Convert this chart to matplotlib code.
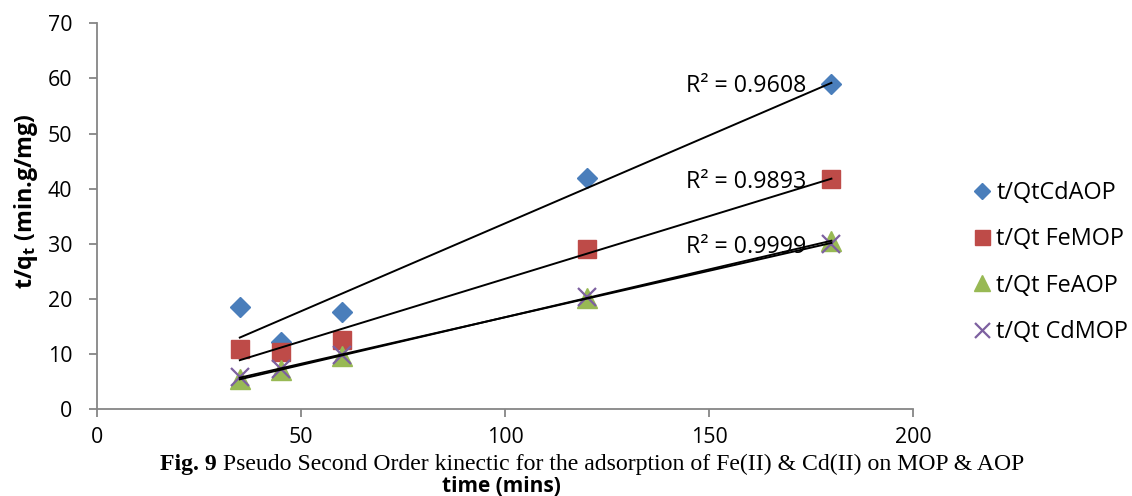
import numpy as np
import matplotlib
matplotlib.use("Agg")
import matplotlib.pyplot as plt

time_mins = [35, 45, 60, 120, 180]
cd_aop = [18.6, 12.2, 17.6, 42.0, 58.9]
fe_mop = [10.8, 10.4, 12.6, 29.0, 41.7]
fe_aop = [5.4, 7.1, 9.7, 20.2, 30.5]
cd_mop = [5.8, 7.2, 9.8, 20.3, 30.0]
series_names = ["t/QtCdAOP", "t/Qt FeMOP", "t/Qt FeAOP", "t/Qt CdMOP"]
r2_labels = ["R\u00b2 = 0.9608", "R\u00b2 = 0.9893", "R\u00b2 = 0.9999"]
x_ticks = [0, 50, 100, 150, 200]
y_ticks = [0, 10, 20, 30, 40, 50, 60, 70]

# label placement (data coords of right end / baseline)
r2_pos_x = 173.8
r2_pos_y = [57.5, 40.1, 28.4]

FONT = "Open Sans"
SERIF = "Liberation Serif"
W, H = 1132, 496
fig = plt.figure(figsize=(W / 100, H / 100), dpi=100)
r = fig.canvas.get_renderer()


def px_width(text, **kw):
    t = fig.text(0, 0, text, **kw)
    w = t.get_window_extent(renderer=r).width
    t.remove()
    return w


def fit_size(text, target_px, base=14, **kw):
    return base * target_px / px_width(text, fontsize=base, **kw)


ax = fig.add_axes([97 / W, 1 - 409 / H, 816 / W, 385.7 / H])

styles = [
    dict(marker="D", color="#4A7EBB", ms=10),
    dict(marker="s", color="#BE4B48", ms=13.5),
    dict(marker="^", color="#98B954", ms=14),
    dict(marker="x", color="#7D60A0", ms=13.5, mew=1.6),
]
data = [cd_aop, fe_mop, fe_aop, cd_mop]
x = np.array(time_mins, dtype=float)
handles = []
for ys, st, name in zip(data, styles, series_names):
    h, = ax.plot(x, ys, linestyle="none", label=name, zorder=3, **st)
    handles.append(h)
    k, b = np.polyfit(x, ys, 1)
    ax.plot([x.min(), x.max()], [k * x.min() + b, k * x.max() + b], color="black", lw=1.4, zorder=4)

r2_size = fit_size(r2_labels[0], 121, family=FONT)
for lbl, yy in zip(r2_labels, r2_pos_y):
    ax.text(r2_pos_x, yy, lbl, ha="right", va="baseline", fontsize=r2_size, family=FONT, zorder=5)

ax.set_xlim(0, 200)
ax.set_ylim(0, 70)
ax.set_xticks(x_ticks)
ax.set_yticks(y_ticks)
for s in ["top", "right"]:
    ax.spines[s].set_visible(False)
for s in ["left", "bottom"]:
    ax.spines[s].set_color("#868686")
    ax.spines[s].set_linewidth(1.3)
tick_size = fit_size("100", 37, family=FONT)
ax.tick_params(colors="#868686", length=5.8, width=1.3, labelcolor="black", labelsize=tick_size)
ax.tick_params(axis="y", pad=12)
ax.tick_params(axis="x", pad=7.5)
for lab in ax.get_xticklabels() + ax.get_yticklabels():
    lab.set_family(FONT)

# y label: fit its height to 177 px
yl = fig.text(26 / W, 1 - 201 / H, "t/q$_\\mathregular{t}$ (min.g/mg)", rotation=90, ha="center",
              va="center", fontsize=14, fontweight="bold", family=FONT)
hh = yl.get_window_extent(renderer=r).height
yl.set_fontsize(14 * 177 / hh)

xl_size = fit_size("time (mins)", 119, family=FONT, fontweight="bold")
fig.text(501 / W, 1 - 492 / H, "time (mins)", ha="center", va="baseline", fontsize=xl_size,
         fontweight="bold", family=FONT)

# caption: bold "Fig. 9" followed by regular text, spanning px 160..1030
cap_bold = "Fig. 9"
cap_rest = "Pseudo Second Order kinectic for the adsorption of Fe(II) & Cd(II) on MOP & AOP"
base = 14
total = px_width(cap_bold + " ", fontsize=base, fontweight="bold", family=SERIF) + \
    px_width(cap_rest, fontsize=base, family=SERIF)
cs = base * 870 / total
t1 = fig.text(160 / W, 1 - 470 / H, cap_bold + " ", ha="left", va="baseline", fontsize=cs,
              fontweight="bold", family=SERIF)
bb = t1.get_window_extent(renderer=r)
fig.text(bb.x1 / W, 1 - 470 / H, cap_rest, ha="left", va="baseline", fontsize=cs, family=SERIF)

# legend
leg_size = fit_size(series_names[0], 121, family=FONT)
F = leg_size * 100 / 72
th = fig.text(0, 0, series_names[0], fontsize=leg_size, family=FONT)
row_h = th.get_window_extent(renderer=r).height
th.remove()
lspace = max((46.3 - row_h) / F, 0.1)
hl, hp = 0.7, 0.25
left_px = 982 - hl * F / 2
leg = fig.legend(handles=handles, loc="center left", bbox_to_anchor=(left_px / W, 1 - 262.5 / H),
                 frameon=False, prop={"family": FONT, "size": leg_size}, labelspacing=lspace,
                 handlelength=hl, handletextpad=hp, numpoints=1, borderpad=0, borderaxespad=0,
                 markerscale=0.8)

fig.savefig("out.png", dpi=100)
